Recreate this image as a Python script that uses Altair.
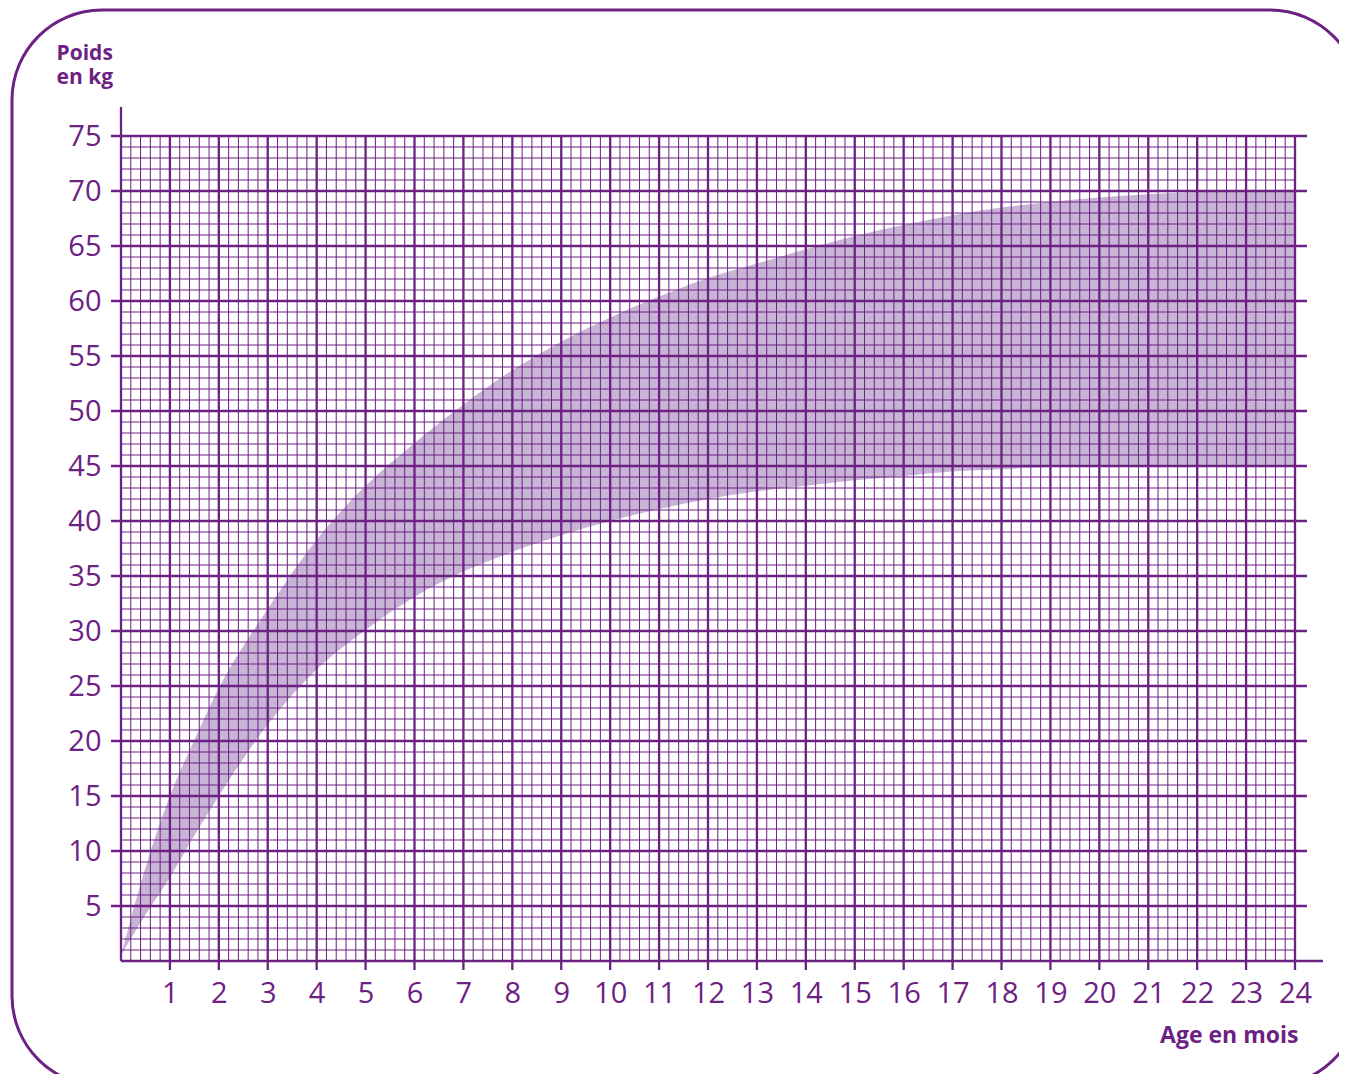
import altair as alt
import pandas as pd

# --- data ---
months = [0, 0.5, 1, 1.5, 2, 3, 4, 5, 6, 7, 8, 9, 10, 11, 12, 13, 14, 15, 16,
          17, 18, 19, 20, 21, 22, 23, 24]
upper = [0.5, 8.5, 15.0, 20.1, 24.8, 32.0, 38.3, 43.2, 47.1, 50.6, 53.7, 56.3,
         58.5, 60.4, 62.1, 63.4, 64.7, 65.9, 66.9, 67.8, 68.5, 69.0, 69.4,
         69.7, 69.9, 70.0, 70.0]
lower = [0.5, 4.2, 7.6, 11.4, 15.0, 21.5, 26.5, 30.1, 33.1, 35.4, 37.2, 38.7,
         40.0, 41.1, 42.0, 42.7, 43.2, 43.7, 44.1, 44.5, 44.7, 44.9, 45.0,
         45.0, 45.0, 45.0, 45.0]

x_labels = list(range(1, 25))          # month tick labels
y_labels = list(range(5, 80, 5))       # kg tick labels
minor_x = [round(i * 0.2, 1) for i in range(1, 120) if i % 5 != 0]
minor_y = [k for k in range(1, 75) if k % 5 != 0]

W, H = 1174, 825
PURPLE = "#6c2183"
FILL = "#c8b5d6"
FONT = "Open Sans"

xs = alt.Scale(domain=[0, 24], nice=False, zero=False)
ys = alt.Scale(domain=[0, 75], nice=False, zero=False)

x_axis = alt.Axis(
    values=x_labels, grid=False, domain=False, ticks=False, tickSize=0,
    labelPadding=41, labelBaseline="alphabetic", labelFontSize=29,
    labelFont=FONT, labelColor=PURPLE, labelFlush=False,
    title="Age en mois", titleFont=FONT, titleFontSize=23,
    titleFontWeight="bold", titleColor=PURPLE, titleAngle=0,
    titleAlign="right", titleBaseline="alphabetic", titleX=1177, titleY=81)
y_axis = alt.Axis(
    values=y_labels, grid=False, domain=False, ticks=False, tickSize=0,
    labelPadding=20, labelFontSize=29, labelFont=FONT, labelColor=PURPLE,
    labelFlush=False,
    title=["Poids", "en kg"], titleFont=FONT, titleFontSize=21,
    titleFontWeight="bold", titleColor=PURPLE, titleAngle=0,
    titleAlign="left", titleBaseline="alphabetic", titleX=-65, titleY=-77,
    titleLineHeight=24)

band_df = pd.DataFrame({"m": months, "kg": upper, "lo": lower})

band = alt.Chart(band_df).mark_area(
    color=FILL, opacity=1, interpolate="monotone"
).encode(
    x=alt.X("m:Q", scale=xs, axis=x_axis),
    y=alt.Y("kg:Q", scale=ys, axis=y_axis),
    y2="lo:Q",
)

minor_v = alt.Chart(pd.DataFrame({"m": minor_x})).mark_rule(
    color=PURPLE, strokeWidth=1
).encode(x=alt.X("m:Q", scale=xs, axis=x_axis), y=alt.value(0), y2=alt.value(H))

minor_h = alt.Chart(pd.DataFrame({"kg": minor_y})).mark_rule(
    color=PURPLE, strokeWidth=1
).encode(y=alt.Y("kg:Q", scale=ys, axis=y_axis), x=alt.value(0), x2=alt.value(W))

major_v = alt.Chart(pd.DataFrame({"m": x_labels})).mark_rule(
    color=PURPLE, strokeWidth=2.3
).encode(x=alt.X("m:Q", scale=xs, axis=x_axis), y=alt.value(0), y2=alt.value(H + 9))

major_h = alt.Chart(pd.DataFrame({"kg": y_labels})).mark_rule(
    color=PURPLE, strokeWidth=2.3
).encode(y=alt.Y("kg:Q", scale=ys, axis=y_axis), x=alt.value(-10), x2=alt.value(W + 12))

y_axis_line = alt.Chart(pd.DataFrame({"m": [0]})).mark_rule(
    color=PURPLE, strokeWidth=2.3
).encode(x=alt.X("m:Q", scale=xs, axis=x_axis), y=alt.value(-29), y2=alt.value(H))

x_axis_line = alt.Chart(pd.DataFrame({"kg": [0]})).mark_rule(
    color=PURPLE, strokeWidth=2.3
).encode(y=alt.Y("kg:Q", scale=ys, axis=y_axis), x=alt.value(0), x2=alt.value(W + 28))

frame = alt.Chart(alt.Data(values=[{"a": 1}])).mark_rect(
    fill=None, stroke=PURPLE, strokeWidth=3, cornerRadius=90
).encode(x=alt.value(-109), x2=alt.value(W + 65), y=alt.value(-126), y2=alt.value(H + 125))

chart = alt.layer(
    frame, band, minor_v, minor_h, major_v, major_h, y_axis_line, x_axis_line
).properties(
    width=W, height=H,
    autosize=alt.AutoSizeParams(type="none"),
    padding={"left": 113, "top": 128, "right": 44, "bottom": 113},
    background="white",
).configure_view(stroke=None)

chart.save("out.html", embed_options={"renderer": "svg", "actions": False})
